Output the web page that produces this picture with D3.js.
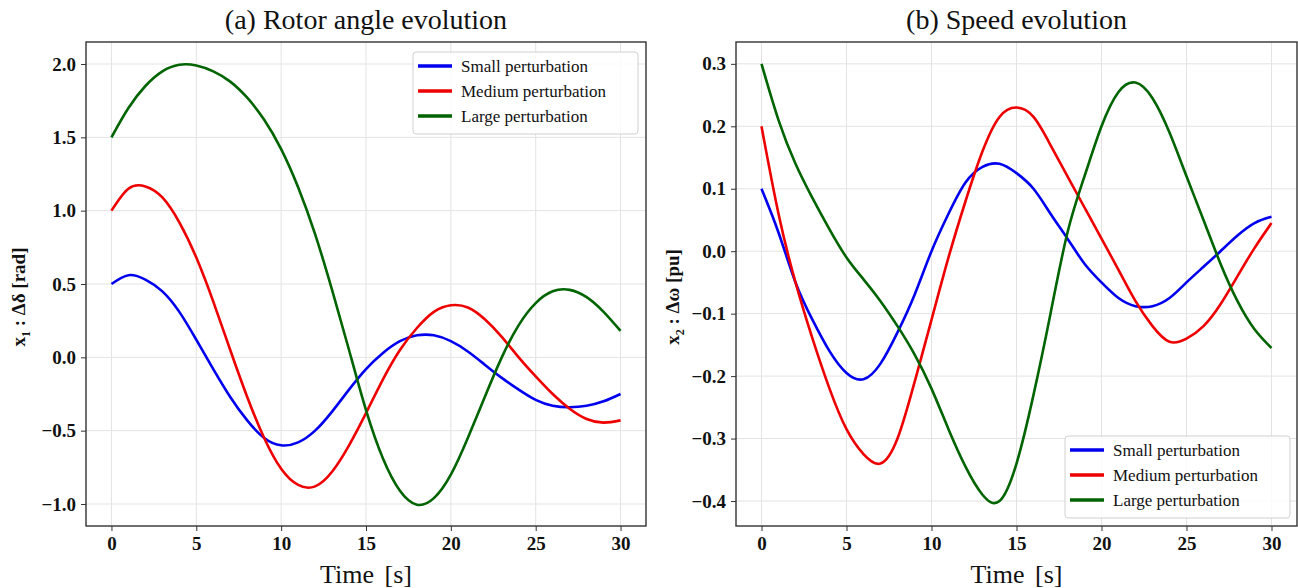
<!DOCTYPE html>
<html>
<head>
<meta charset="utf-8">
<script src="https://cdn.jsdelivr.net/npm/d3@7"></script>
<style>
  body { margin: 0; background: #fff; }
  text { font-family: "Liberation Serif", "DejaVu Serif", serif; }
</style>
</head>
<body>
<div id="chart"></div>
<script>
// time samples (s)
const time = d3.range(0, 31);

// (a) rotor angle x1 [rad]
const angleSmall = [0.50, 0.56, 0.53, 0.45, 0.31, 0.12, -0.08, -0.27, -0.43, -0.55, -0.60,
  -0.58, -0.50, -0.37, -0.22, -0.08, 0.03, 0.11, 0.15, 0.15, 0.11,
  0.04, -0.05, -0.14, -0.22, -0.29, -0.33, -0.34, -0.33, -0.30, -0.25];
const angleMedium = [1.00, 1.15, 1.165, 1.09, 0.92, 0.68, 0.38, 0.05, -0.27, -0.55, -0.76,
  -0.87, -0.88, -0.78, -0.60, -0.38, -0.15, 0.05, 0.20, 0.31, 0.355,
  0.34, 0.26, 0.14, 0.00, -0.13, -0.25, -0.35, -0.42, -0.445, -0.43];
const angleLarge = [1.50, 1.70, 1.85, 1.95, 1.995, 1.99, 1.95, 1.88, 1.77, 1.62, 1.42,
  1.16, 0.84, 0.46, 0.05, -0.36, -0.69, -0.91, -1.005, -0.96, -0.80,
  -0.55, -0.27, 0.00, 0.22, 0.37, 0.45, 0.46, 0.41, 0.31, 0.18];

// (b) speed x2 [pu]
const speedSmall = [0.10, 0.03, -0.05, -0.11, -0.16, -0.195, -0.205, -0.18, -0.13, -0.07, 0.00,
  0.06, 0.11, 0.135, 0.14, 0.125, 0.10, 0.06, 0.02, -0.02, -0.05,
  -0.075, -0.088, -0.088, -0.075, -0.05, -0.025, 0.00, 0.025, 0.045, 0.055];
const speedMedium = [0.20, 0.06, -0.05, -0.14, -0.22, -0.285, -0.325, -0.34, -0.30, -0.21, -0.11,
  -0.01, 0.08, 0.16, 0.215, 0.23, 0.215, 0.17, 0.12, 0.07, 0.02,
  -0.03, -0.08, -0.12, -0.145, -0.14, -0.12, -0.085, -0.04, 0.005, 0.045];
const speedLarge = [0.30, 0.21, 0.14, 0.085, 0.035, -0.01, -0.045, -0.08, -0.12, -0.165, -0.22,
  -0.285, -0.345, -0.39, -0.40, -0.34, -0.23, -0.10, 0.03, 0.12, 0.20,
  0.255, 0.27, 0.245, 0.19, 0.12, 0.05, -0.02, -0.08, -0.125, -0.155];

const seriesNames = ["Small perturbation", "Medium perturbation", "Large perturbation"];
const seriesColors = ["#0000ee", "#ee0000", "#006400"];

const xTicks = [0, 5, 10, 15, 20, 25, 30];
const angleTicks = [-1.0, -0.5, 0.0, 0.5, 1.0, 1.5, 2.0];
const speedTicks = [-0.4, -0.3, -0.2, -0.1, 0.0, 0.1, 0.2, 0.3];

const W = 1298, H = 588;
const serif = "'Liberation Serif', 'DejaVu Serif', serif";
const svg = d3.select("#chart").append("svg")
    .attr("width", W)
    .attr("height", H);

function drawPanel(cfg) {
    const left = cfg.left, right = cfg.right, top = 42, bottom = 526;

    const x = d3.scaleLinear().domain([-1.5, 31.5]).range([left, right]);
    const y = d3.scaleLinear().domain(cfg.yDomain).range([bottom, top]);

    const g = svg.append("g");

    // grid
    g.selectAll(".gx").data(xTicks).enter().append("line")
        .attr("x1", d => x(d)).attr("x2", d => x(d))
        .attr("y1", top).attr("y2", bottom)
        .attr("stroke", "#e3e3e3").attr("stroke-width", 1);
    g.selectAll(".gy").data(cfg.yTicks).enter().append("line")
        .attr("x1", left).attr("x2", right)
        .attr("y1", d => y(d)).attr("y2", d => y(d))
        .attr("stroke", "#e3e3e3").attr("stroke-width", 1);

    // lines
    const line = d3.line()
        .x((d, i) => x(time[i]))
        .y(d => y(d))
        .curve(d3.curveNatural);

    cfg.series.forEach((s, k) => {
        g.append("path")
            .datum(s)
            .attr("d", line)
            .attr("fill", "none")
            .attr("stroke", seriesColors[k])
            .attr("stroke-width", 2.6);
    });

    // axes
    const xAxis = d3.axisBottom(x).tickValues(xTicks).tickSize(5).tickPadding(6).tickFormat(d3.format("d"));
    const yAxis = d3.axisLeft(y).tickValues(cfg.yTicks).tickSize(5).tickPadding(5).tickFormat(d3.format(".1f"));

    const gx = g.append("g").attr("transform", `translate(0,${bottom})`).call(xAxis);
    const gy = g.append("g").attr("transform", `translate(${left},0)`).call(yAxis);
    [gx, gy].forEach(a => {
        a.attr("font-family", serif).attr("font-size", 19);
        a.select(".domain").remove();
        a.selectAll("line").attr("stroke", "#333");
        a.selectAll("text")
            .attr("fill", "#111")
            .style("font-family", serif)
            .style("font-size", "19px")
            .style("font-weight", "bold");
    });

    // frame
    g.append("rect")
        .attr("x", left).attr("y", top)
        .attr("width", right - left).attr("height", bottom - top)
        .attr("fill", "none").attr("stroke", "#333").attr("stroke-width", 1.4);

    // title
    g.append("text")
        .attr("x", (left + right) / 2).attr("y", 29)
        .attr("text-anchor", "middle")
        .style("font-size", "28px")
        .attr("fill", "#111")
        .text(cfg.title);

    // x label
    g.append("text")
        .attr("x", (left + right) / 2).attr("y", 583)
        .attr("text-anchor", "middle")
        .style("font-size", "26px")
        .style("word-spacing", "4px")
        .attr("fill", "#111")
        .text("Time [s]");

    // y label
    const yl = g.append("text")
        .attr("transform", `translate(${cfg.ylabelX},297) rotate(-90)`)
        .attr("text-anchor", "middle")
        .style("font-size", "19px")
        .style("font-weight", "bold")
        .attr("fill", "#111");
    yl.append("tspan").text("x");
    yl.append("tspan").attr("dy", 5).style("font-size", "12px").text(cfg.sub);
    yl.append("tspan").attr("dy", -5).text(" : " + cfg.ylabelRest);

    // legend
    const lg = g.append("g").attr("transform", `translate(${cfg.legX},${cfg.legY})`);
    lg.append("rect")
        .attr("width", 225).attr("height", 82)
        .attr("rx", 3)
        .attr("fill", "rgba(255,255,255,0.85)")
        .attr("stroke", "#d0d0d0").attr("stroke-width", 1);
    seriesNames.forEach((name, k) => {
        const yy = 14 + k * 25;
        lg.append("line")
            .attr("x1", 5).attr("x2", 39)
            .attr("y1", yy).attr("y2", yy)
            .attr("stroke", seriesColors[k]).attr("stroke-width", 3.5);
        lg.append("text")
            .attr("x", 48).attr("y", yy + 6)
            .style("font-size", "17px")
            .attr("fill", "#111")
            .text(name);
    });
}

drawPanel({
    left: 86, right: 646,
    yDomain: [-1.15, 2.15],
    yTicks: angleTicks,
    series: [angleSmall, angleMedium, angleLarge],
    title: "(a) Rotor angle evolution",
    ylabelX: 25, sub: "1", ylabelRest: "\u0394\u03b4 [rad]",
    legX: 413, legY: 52
});

drawPanel({
    left: 736, right: 1297,
    yDomain: [-0.44, 0.335],
    yTicks: speedTicks,
    series: [speedSmall, speedMedium, speedLarge],
    title: "(b) Speed evolution",
    ylabelX: 679, sub: "2", ylabelRest: "\u0394\u03c9 [pu]",
    legX: 1065, legY: 436
});
</script>
</body>
</html>
